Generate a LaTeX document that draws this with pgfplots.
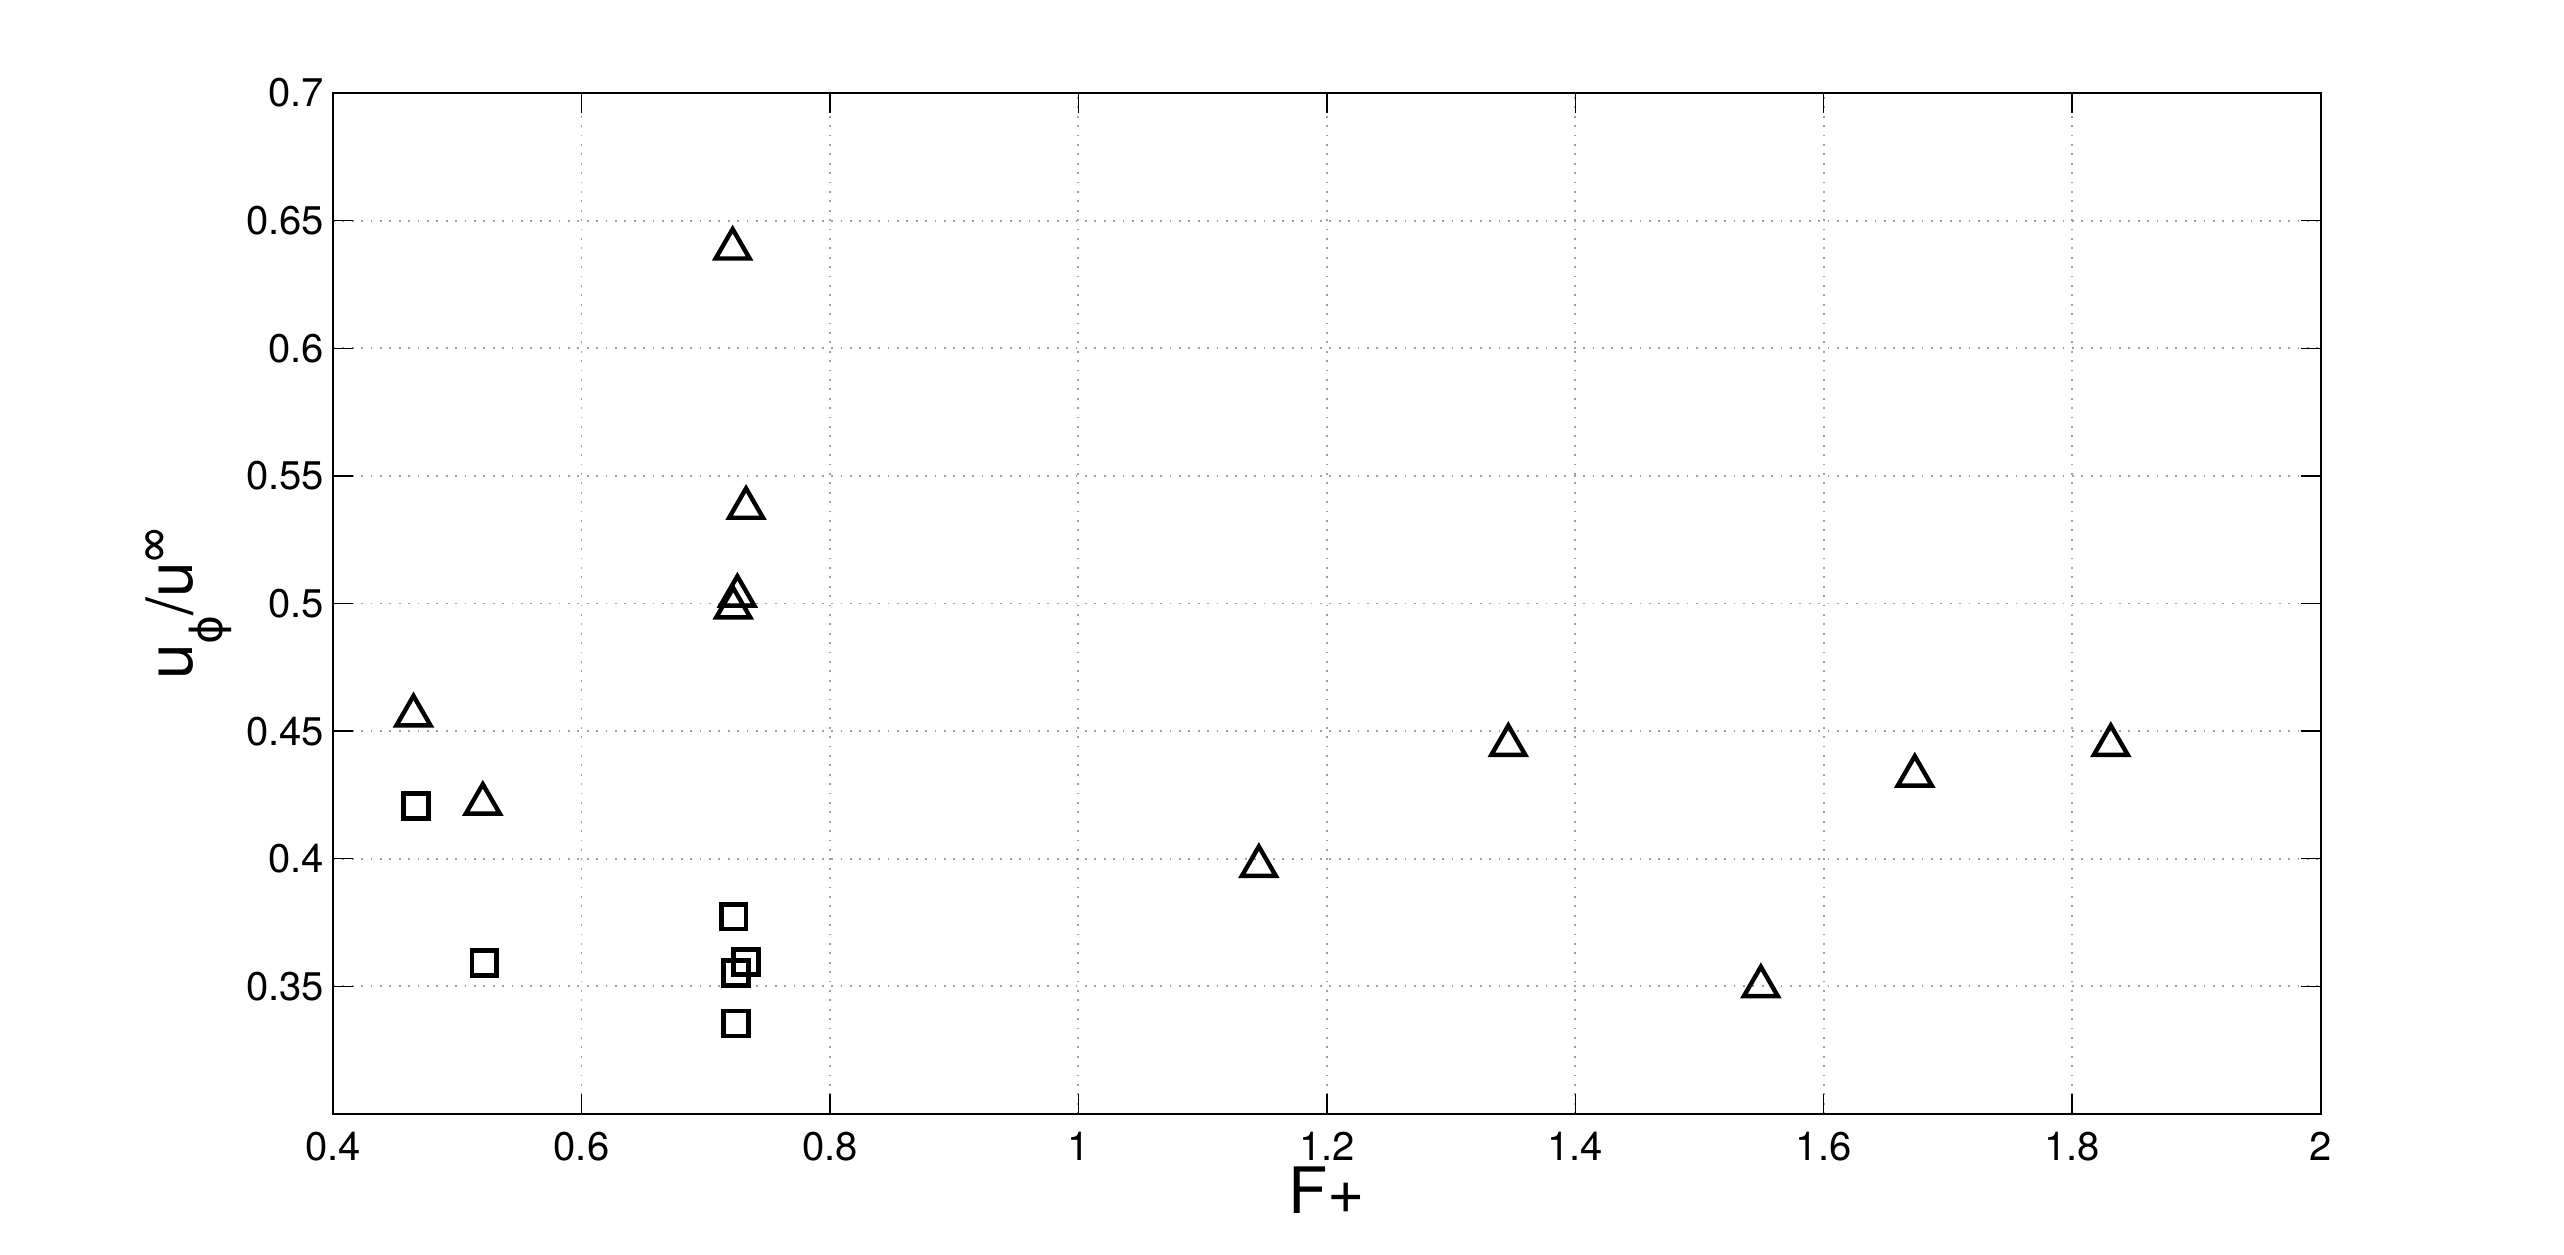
\documentclass[border=0pt]{standalone}
\usepackage{fontspec}
\setmainfont{TeX Gyre Heros}
\newfontfamily\dejavu{DejaVu Sans}
\usepackage{pgfplots}
\pgfplotsset{compat=1.18}
\usetikzlibrary{calc}
\begin{document}
\begin{tikzpicture}
\begin{axis}[
  name=ax,
  scale only axis,
  width=496.9pt, height=255.25pt,
  xmin=0.4, xmax=2, ymin=0.3, ymax=0.7,
  xtick={0.4,0.6,0.8,1,1.2,1.4,1.6,1.8,2},
  ytick={0.35,0.4,0.45,0.5,0.55,0.6,0.65,0.7},
  tick align=inside,
  major tick length=5pt,
  grid=major,
  major grid style={gray!75, line width=0.45pt, dash pattern=on 0.45pt off 1.9pt},
  axis line style={black, line width=0.5pt},
  tick style={black, line width=0.35pt},
  /pgf/number format/assume math mode=true,
  ticklabel style={font=\fontsize{10}{12}\selectfont},
  xticklabel style={inner sep=0pt, yshift=-4.4pt},
  yticklabel style={inner sep=0pt, xshift=-2pt},
  label style={font=\fontsize{16}{19}\selectfont},
  xlabel={F+},
  ylabel={u\raisebox{-7.5pt}{\fontsize{11}{11}\dejavu ϕ}/u\textsuperscript{∞}},
  xlabel style={at={(axis description cs:0.5,-0.0979)}, anchor=base, inner sep=0pt},
  ylabel style={at={(axis description cs:-0.0709,0.5)}, anchor=base, inner sep=0pt},
]
\addplot[only marks, mark=triangle, mark size=4.9pt,
  mark options={black, line width=1.1pt, yshift=-1.2pt}] coordinates {
  (0.7217,0.6409)
  (0.7325,0.5393)
  (0.7255,0.5049)
  (0.7222,0.5003)
  (0.4648,0.4580)
  (0.5206,0.4234)
  (1.1453,0.3990)
  (1.3461,0.4464)
  (1.5494,0.3519)
  (1.6733,0.4344)
  (1.8311,0.4464)
};
\addplot[only marks, mark=square, mark size=3.1pt,
  mark options={black, line width=1.15pt}] coordinates {
  (0.4667,0.4206)
  (0.5218,0.3591)
  (0.7226,0.3773)
  (0.7323,0.3595)
  (0.7243,0.3553)
  (0.7243,0.3355)
};
\end{axis}
\pgfresetboundingbox
\path[use as bounding box] ($(ax.south west)+(-83.25pt,-35pt)$) rectangle ($(ax.north east)+(60.85pt,23.25pt)$);
\end{tikzpicture}
\end{document}
